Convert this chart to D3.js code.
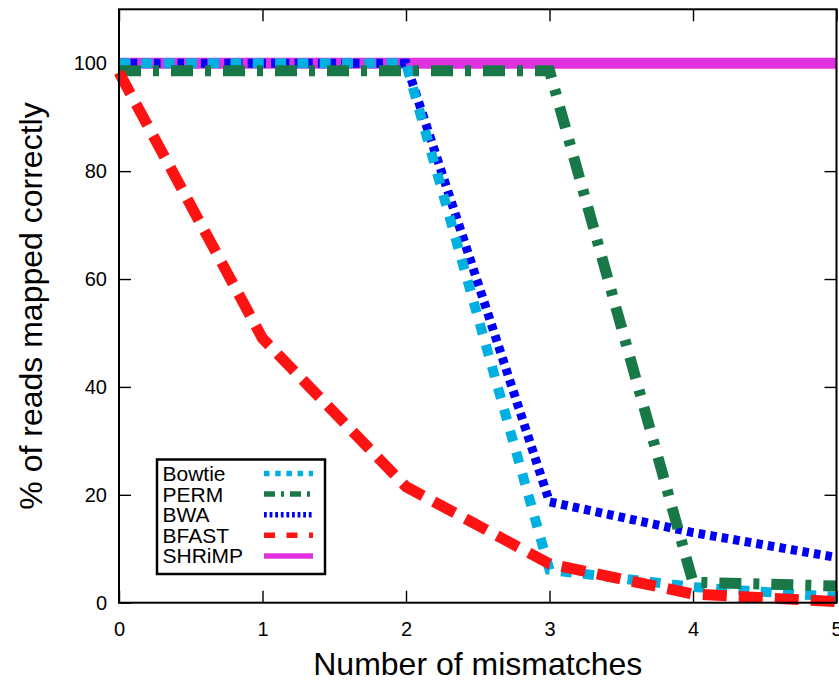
<!DOCTYPE html>
<html>
<head>
<meta charset="utf-8">
<script src="https://cdn.jsdelivr.net/npm/d3@7"></script>
<style>
  body { margin: 0; background: #fff; }
  svg { display: block; font-family: "Liberation Sans", Arial, sans-serif; }
</style>
</head>
<body>
<div id="chart"></div>
<script>
// data
const mismatches = [0, 1, 2, 3, 4, 5];
const bowtie = [100, 100, 100, 6.1, 2.9, 1.1];
const perm = [98.6, 98.6, 98.6, 98.6, 3.8, 3.1];
const bwa = [100, 100, 100, 18.7, 13.0, 8.4];
const bfast = [98.3, 49, 21.5, 7.2, 1.6, 0.2];
const shrimp = [100, 100, 100, 100, 100, 100];
const legendNames = ["Bowtie", "PERM", "BWA", "BFAST", "SHRiMP"];
const xTicks = [0, 1, 2, 3, 4, 5];
const yTicks = [0, 20, 40, 60, 80, 100];

// line styles per series (main plot dash, legend dash)
const styles = {
    Bowtie: { color: "#00b0e0", width: 10, dash: "11,11.3", keyDash: "5.5,5.7" },
    PERM:   { color: "#187848", width: 11, dash: "22,12,6,12", keyDash: "11,6,3,6" },
    BWA:    { color: "#0000f5", width: 9, dash: "6.5,5.2", keyDash: "2.8,2.8" },
    BFAST:  { color: "#ff1212", width: 11, dash: "24,12", keyDash: "11,11.5" },
    SHRiMP: { color: "#e030e0", width: 11, dash: null, keyDash: null }
};
const series = { Bowtie: bowtie, PERM: perm, BWA: bwa, BFAST: bfast, SHRiMP: shrimp };
// bottom-to-top stacking as seen in the picture
const drawOrder = ["SHRiMP", "BWA", "Bowtie", "PERM", "BFAST"];

const W = 839, H = 680;
const margin = { top: 9.3, right: 2.5, bottom: 77.3, left: 119 };
const width = W - margin.left - margin.right;
const height = H - margin.top - margin.bottom;

const svg = d3.select("#chart").append("svg")
    .attr("width", W)
    .attr("height", H);

const plot = svg.append("g")
    .attr("transform", `translate(${margin.left},${margin.top})`);

const x = d3.scaleLinear().domain([0, 5]).range([0, width]);
const y = d3.scaleLinear().domain([0, 110]).range([height, 0]);

// axes with inward ticks
const styleAxis = g => {
    g.select(".domain").remove();
    g.selectAll(".tick line").attr("stroke", "#000").attr("stroke-width", 1.4);
    g.selectAll("text")
        .attr("fill", "#000")
        .style("font-size", "20px")
        .style("font-family", "'Liberation Sans', Arial, sans-serif");
};

plot.append("g")
    .attr("transform", `translate(0,${height})`)
    .call(d3.axisBottom(x).tickValues(xTicks).tickSize(-12).tickPadding(19).tickFormat(d3.format("d")))
    .call(styleAxis);

plot.append("g")
    .call(d3.axisTop(x).tickValues(xTicks).tickSize(-12).tickFormat(""))
    .call(styleAxis);

plot.append("g")
    .call(d3.axisLeft(y).tickValues(yTicks).tickSize(-12).tickPadding(12).tickFormat(d3.format("d")))
    .call(styleAxis);

plot.append("g")
    .attr("transform", `translate(${width},0)`)
    .call(d3.axisRight(y).tickValues(yTicks).tickSize(-12).tickFormat(""))
    .call(styleAxis);

// lines
const line = d3.line()
    .x((d, i) => x(mismatches[i]))
    .y(d => y(d));

drawOrder.forEach(name => {
    const s = styles[name];
    plot.append("path")
        .datum(series[name])
        .attr("d", line)
        .attr("fill", "none")
        .attr("stroke", s.color)
        .attr("stroke-width", s.width)
        .attr("stroke-dasharray", s.dash)
        .attr("stroke-linecap", "butt")
        .attr("stroke-linejoin", "miter");
});

// plot border
plot.append("rect")
    .attr("width", width)
    .attr("height", height)
    .attr("fill", "none")
    .attr("stroke", "#000")
    .attr("stroke-width", 2);

// legend
const legend = svg.append("g").attr("transform", "translate(157,459.5)");
legend.append("rect")
    .attr("width", 168)
    .attr("height", 114.5)
    .attr("fill", "#fff")
    .attr("stroke", "#000")
    .attr("stroke-width", 2.5);

const rows = legend.selectAll(".row")
    .data(legendNames)
    .enter()
    .append("g")
    .attr("class", "row")
    .attr("transform", (d, i) => `translate(0,${21.5 + i * 20.6})`);

rows.append("text")
    .attr("x", 5.5)
    .attr("y", 0)
    .style("font-size", "21px")
    .text(d => d);

rows.append("line")
    .attr("x1", 107)
    .attr("x2", 156)
    .attr("y1", -7.5)
    .attr("y2", -7.5)
    .attr("stroke", d => styles[d].color)
    .attr("stroke-width", 5.5)
    .attr("stroke-dasharray", d => styles[d].keyDash);

// axis titles
svg.append("text")
    .attr("x", margin.left + width / 2)
    .attr("y", 675)
    .attr("text-anchor", "middle")
    .style("font-size", "32px")
    .text("Number of mismatches");

svg.append("text")
    .attr("transform", `translate(42,${margin.top + height / 2}) rotate(-90)`)
    .attr("text-anchor", "middle")
    .style("font-size", "32px")
    .text("% of reads mapped correctly");
</script>
</body>
</html>
